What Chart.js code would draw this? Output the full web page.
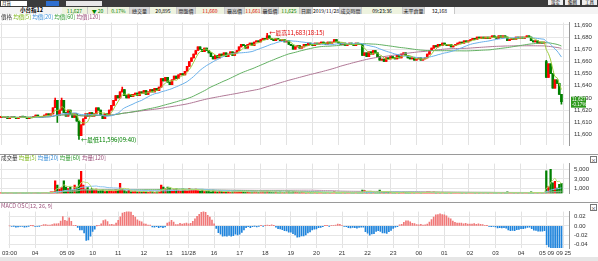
<!DOCTYPE html>
<html><head><meta charset="utf-8">
<script src="https://cdn.jsdelivr.net/npm/chart.js@4.4.0/dist/chart.umd.min.js"></script>
<style>
body{margin:0;width:598px;height:261px;overflow:hidden;background:#fff;position:relative;font-family:"Noto Sans CJK TC","Liberation Sans",sans-serif}
canvas{position:absolute;left:0}
.t{position:absolute;font-size:5.5px;line-height:7px;white-space:nowrap}
.bar{position:absolute;left:0;width:598px}
.cell{position:absolute;top:7px;height:7px;font-size:5px;line-height:7px;text-align:center;border-right:1px solid #c8c8c8;box-sizing:border-box}
.lab{background:#d6d6d6;color:#222}
.val{background:#eef3df}
.hl{position:absolute;left:0;width:598px;height:1px;background:#9a9a9a}
.x{position:absolute;left:590px;width:5px;height:5px;border:1px solid #777;font-size:5px;line-height:5px;text-align:center;background:#fff}
</style></head><body>

<div class="bar" style="top:0;height:7px;background:#3b3b3b"></div>
<div style="position:absolute;left:1px;top:1px;width:26px;height:5px;background:#fff;font-size:4.5px;line-height:5px">&nbsp;月貨</div>
<div style="position:absolute;left:46px;top:1px;width:13px;height:5px;background:#2f6fd0"></div>
<div style="position:absolute;left:66px;top:1px;width:36px;height:5px;background:#e8e8e8"></div>
<div style="position:absolute;left:548px;top:0;width:15px;height:5px;background:#eee;font-size:4.5px;line-height:5px;text-align:center">設定</div>
<div style="position:absolute;left:565px;top:0;width:15px;height:5px;background:#eee;font-size:4.5px;line-height:5px;text-align:center">編輯</div>
<div style="position:absolute;left:582px;top:0;width:15px;height:5px;background:#eee;font-size:4.5px;line-height:5px;text-align:center">工具</div>

<div class="bar" style="top:7px;height:7px;background:#f4f4f4"></div>
<div class="t" style="left:20px;top:7px;font-size:5.5px;font-weight:bold">小台指12</div>
<div class="cell val" style="left:62px;width:26px;color:#008000">11,627</div>
<div class="cell val" style="left:88px;width:20px;color:#008000">▼ 20</div>
<div class="cell val" style="left:108px;width:22px;color:#008000">0.17%</div>
<div class="cell lab" style="left:130px;width:20px">總交量</div>
<div class="cell val" style="left:150px;width:27px">20,895</div>
<div class="cell lab" style="left:177px;width:19px">開盤價</div>
<div class="cell val" style="left:196px;width:29px;color:#e00000">11,660</div>
<div class="cell lab" style="left:225px;width:20px">最高價</div>
<div class="cell val" style="left:245px;width:17px;color:#e00000">11,661</div>
<div class="cell lab" style="left:262px;width:17px">最低價</div>
<div class="cell val" style="left:279px;width:21px;color:#008000">11,625</div>
<div class="cell lab" style="left:300px;width:13px">日期</div>
<div class="cell" style="left:313px;width:27px;background:#fff">2019/11/28</div>
<div class="cell lab" style="left:340px;width:22px">成交時間</div>
<div class="cell val" style="left:362px;width:41px">09:23:36</div>
<div class="cell lab" style="left:403px;width:22px">未平倉量</div>
<div class="cell" style="left:425px;width:30px;background:#fff">32,168</div>

<canvas id="price" width="598" height="140" style="top:14px"></canvas>
<canvas id="vol" width="598" height="47" style="top:155px"></canvas>
<canvas id="macd" width="598" height="54" style="top:203px"></canvas>

<div class="hl" style="top:154px"></div>
<div class="hl" style="top:202px"></div>
<div class="x" style="top:156px">×</div>
<div class="x" style="top:204px">×</div>

<div class="t" style="left:1px;top:14px"><span style="color:#333">價格</span> <span style="color:#7cb518">均價[5]</span> <span style="color:#3a8fd8">均價[20]</span> <span style="color:#2e9a2e">均價[60]</span> <span style="color:#9b4f7a">均價[120]</span></div>
<div class="t" style="left:1px;top:155px"><span style="color:#333">成交量</span> <span style="color:#7cb518">均量[5]</span> <span style="color:#3a8fd8">均量[20]</span> <span style="color:#2e9a2e">均量[60]</span> <span style="color:#9b4f7a">均量[120]</span></div>
<div class="t" style="left:1px;top:203px;color:#9b4f7a">MACD OSC[12, 26, 9]</div>

<div class="bar" style="top:257px;height:4px;background:#e6e6e6"></div>

<script>
// 5 minute bars, one array per session
const nightCloses1 = [11615, 11614, 11615, 11613, 11614, 11615, 11614, 11613, 11614, 11615,
  11615, 11614, 11613, 11614, 11614, 11615, 11616, 11615, 11614, 11615, 11616, 11617, 11616, 11617];
const dayCloses1 = [11622, 11628, 11616, 11620, 11628, 11618, 11615, 11620, 11617, 11614,
  11617, 11611, 11599, 11608, 11613, 11617, 11615, 11618, 11615, 11617,
  11622, 11620, 11616, 11613, 11617, 11616, 11620, 11624, 11628, 11632,
  11630, 11635, 11637, 11632, 11630, 11633, 11631, 11633, 11634, 11632,
  11635, 11634, 11636, 11633, 11635, 11637, 11635, 11638, 11636, 11639,
  11646, 11644, 11647, 11643, 11641, 11645, 11648, 11646, 11649, 11650];
const nightCloses2 = [11649, 11652, 11656, 11660, 11663, 11666, 11669, 11672, 11670, 11668,
  11671, 11669, 11667, 11664, 11662, 11665, 11663, 11666, 11665, 11667,
  11664, 11666, 11668, 11665, 11667, 11669, 11672, 11674, 11673, 11671,
  11674, 11675, 11673, 11676, 11677, 11676, 11678, 11679, 11678, 11681,
  11679, 11678, 11677, 11679, 11678, 11677, 11678, 11676, 11677, 11674,
  11673, 11670, 11672, 11673, 11671, 11672, 11674, 11673, 11675, 11674,
  11673, 11675, 11674, 11675, 11676, 11675, 11674, 11676, 11675, 11676,
  11678, 11676, 11675, 11674, 11675, 11673, 11674, 11675, 11674, 11673,
  11675, 11674, 11674, 11665, 11667, 11664, 11668, 11666, 11669, 11667,
  11664, 11661, 11662, 11660, 11663, 11662, 11664, 11663, 11662, 11665,
  11663, 11666, 11667, 11665, 11663, 11662, 11663, 11661, 11662, 11663,
  11661, 11662, 11663, 11666, 11669, 11671, 11673, 11672, 11674, 11673,
  11675, 11674, 11673, 11674, 11672, 11673, 11674, 11675, 11676, 11675,
  11677, 11676, 11677, 11678, 11679, 11678, 11680, 11679, 11680, 11679,
  11680, 11679, 11680, 11681, 11680, 11679, 11681, 11680, 11681, 11680,
  11677, 11678, 11679, 11678, 11680, 11679, 11680, 11679, 11680, 11681,
  11680, 11677, 11676, 11677, 11675, 11676, 11675, 11676];
const dayCloses2 = [11647, 11658, 11650, 11638, 11645, 11642, 11633, 11627];

const nightVol1 = [120, 80, 150, 60, 90, 110, 70, 130, 90, 60, 100, 80, 140, 70, 90, 60, 120, 150, 80, 100, 130, 180, 90, 300];
const dayVol1 = [300, 2600, 1700, 900, 1200, 2600, 1300, 1000, 1300, 700,
  1700, 1300, 2800, 4600, 1700, 900, 1200, 600, 1000, 700,
  900, 500, 600, 800, 400, 500, 700, 600, 500, 800,
  700, 2100, 1000, 600, 400, 700, 300, 400, 500, 300,
  400, 300, 500, 300, 200, 400, 300, 200, 300, 400,
  1700, 1300, 1000, 1300, 1100, 600, 800, 1000, 700, 500];
const nightVol2 = [900, 800, 600, 1000, 700, 800, 900, 600, 500, 700,
  400, 500, 600, 300, 700, 400, 300, 500, 400, 300,
  300, 400, 200, 300, 400, 300, 500, 400, 300, 200,
  300, 200, 300, 400, 300, 200, 300, 400, 300, 500,
  300, 200, 200, 300, 200, 300, 200, 200, 300, 400,
  200, 400, 300, 200, 200, 300, 200, 100, 200, 200,
  100, 200, 200, 100, 200, 100, 200, 100, 100, 200,
  300, 200, 100, 100, 200, 100, 200, 100, 100, 100,
  100, 200, 200, 700, 600, 400, 300, 300, 200, 200,
  300, 700, 400, 300, 300, 200, 200, 100, 200, 300,
  200, 200, 300, 200, 200, 100, 200, 100, 100, 200,
  100, 200, 200, 300, 300, 200, 300, 200, 200, 100,
  200, 100, 100, 200, 100, 100, 200, 100, 100, 100,
  100, 100, 200, 100, 100, 100, 100, 200, 100, 100,
  100, 100, 100, 200, 100, 100, 100, 100, 100, 100,
  300, 100, 100, 100, 100, 200, 100, 100, 100, 200,
  100, 300, 200, 100, 200, 100, 100, 200];
const dayVol2 = [4700, 1400, 5000, 2200, 2500, 1100, 1900, 2100];

const firstOpen = 11614;
const dayOpen2 = 11660;
const wickHigh = {25: 11630, 28: 11630, 56: 11639, 123: 11683, 252: 11661};
const wickLow = {26: 11610, 36: 11596, 259: 11625};

const sessions = [['03:00', 24], ['08:45', 60], ['15:00', 168], ['08:45', 8]];
const tickIdx = [0, 12, 27, 39, 51, 63, 75, 84, 96, 108, 120, 132, 144, 156, 168, 180, 192, 204, 216, 228, 240, 252, 260];
const tickText = ['03:00', '04', '05 09', '10', '11', '12', '13', '11/28', '16', '17', '18', '19', '20', '21', '22', '23', '00', '01', '02', '03', '04', '05 09', '09 25'];
const priceTicks = [11600, 11610, 11620, 11630, 11640, 11650, 11660, 11670, 11680, 11690];
const volTicks = [1000, 2000, 3000, 4000, 5000];
const macdTicks = [0.02, 0, -0.02, -0.04];

const closes = nightCloses1.concat(dayCloses1, nightCloses2, dayCloses2);
const volumes = nightVol1.concat(dayVol1, nightVol2, dayVol2);

const labels = [];
sessions.forEach(([start, n]) => {
  let [h, m] = start.split(':').map(Number);
  for (let k = 0; k < n; k++) {
    labels.push(String(h).padStart(2, '0') + ':' + String(m).padStart(2, '0'));
    m += 5; if (m >= 60) { m -= 60; h = (h + 1) % 24; }
  }
});
while (labels.length < 263) labels.push('');
const tickMap = {};
tickIdx.forEach((i, k) => tickMap[i] = tickText[k]);

const opens = closes.map((c, i) => i === 0 ? firstOpen : (i === 252 ? dayOpen2 : closes[i - 1]));
const up = closes.map((c, i) => c > opens[i]);
const candleColor = up.map(u => u ? '#ff0000' : '#008000');
const bodies = closes.map((c, i) => c === opens[i] ? [c - 0.25, c + 0.25] : [opens[i], c]);
const wicks = closes.map((c, i) => [wickLow[i] ?? Math.min(c, opens[i]), wickHigh[i] ?? Math.max(c, opens[i])]);

function ma(src, n) {
  return src.map((_, i) => {
    const s = Math.max(0, i - n + 1);
    let t = 0;
    for (let k = s; k <= i; k++) t += src[k];
    return t / (i - s + 1);
  });
}
function ema(src, n) {
  const a = 2 / (n + 1), out = [];
  src.forEach((v, i) => out.push(i ? out[i - 1] + a * (v - out[i - 1]) : v));
  return out;
}
// OSC = 2 * (DIF - signal), shown as % of price
const e12 = ema(closes, 12), e26 = ema(closes, 26);
const dif = e12.map((v, i) => v - e26[i]);
const sig = ema(dif, 9);
const osc = dif.map((v, i) => 2 * (v - sig[i]) / closes[i] * 100);

const font = {family: 'Liberation Sans', size: 6};
const xGrid = {
  offset: false, drawTicks: false,
  color: c => tickMap[c.index] !== undefined ? '#e2e2e2' : 'rgba(0,0,0,0)'
};
function xAxis(show) {
  return {
    grid: xGrid, border: {display: false},
    ticks: {display: show, autoSkip: false, maxRotation: 0, minRotation: 0, padding: 2, font, color: '#333',
      callback: (v, i) => tickMap[i] ?? ''},
    afterFit: s => { s.height = show ? 9 : 0; }
  };
}
function yAxis(min, max, ticks, fmt) {
  return {
    position: 'right', min, max,
    afterBuildTicks: s => { s.ticks = ticks.map(v => ({value: v})); },
    afterFit: s => { s.width = 29; },
    grid: {color: '#e6e6e6', drawTicks: false},
    border: {color: '#999'},
    ticks: {font, color: '#333', padding: 5, callback: fmt}
  };
}
const lineDs = (data, color) => ({type: 'line', data, borderColor: color, borderWidth: 1, pointRadius: 0, tension: 0.3, order: 0});
const common = {responsive: false, animation: false, events: [], layout: {padding: 0},
  plugins: {legend: {display: false}, tooltip: {enabled: false}}};

const markers = {
  id: 'markers',
  afterDatasetsDraw(chart) {
    const {ctx, scales: {x, y}} = chart;
    ctx.save();
    ctx.font = '6px "Noto Sans CJK TC"';
    ctx.textBaseline = 'middle';
    const hi = 123, lo = 36;
    ctx.fillStyle = '#e00000';
    ctx.fillText('←最高11,683(18:15)', x.getPixelForValue(hi) + 2, y.getPixelForValue(wickHigh[hi]) - 1);
    ctx.fillStyle = '#008000';
    ctx.fillText('←最低11,596(09:40)', x.getPixelForValue(lo) + 2, y.getPixelForValue(wickLow[lo]));
    const last = closes.length - 1;
    const py = y.getPixelForValue(closes[last]);
    ctx.fillStyle = '#2f9a1e';
    ctx.fillRect(571, py - 5, 15, 11);
    ctx.fillStyle = '#fff';
    ctx.font = '4.5px "Liberation Sans"';
    ctx.fillText('11,627', 572, py - 2);
    ctx.fillText('-0.17%', 572, py + 3);
    ctx.restore();
  }
};

new Chart(document.getElementById('price'), {
  type: 'bar',
  data: {labels, datasets: [
    lineDs(ma(closes, 5), '#9ccc3c'),
    lineDs(ma(closes, 20), '#6ab0ea'),
    lineDs(ma(closes, 60), '#62b062'),
    lineDs(ma(closes, 120), '#b07896'),
    {data: wicks, backgroundColor: candleColor, barThickness: 1, grouped: false, order: 5},
    {data: bodies, backgroundColor: candleColor, barThickness: 2, grouped: false, order: 4}
  ]},
  options: {...common, scales: {
    x: xAxis(false),
    y: yAxis(11591.1, 11691.9, priceTicks, v => v.toLocaleString('en-US'))
  }},
  plugins: [markers]
});

new Chart(document.getElementById('vol'), {
  type: 'bar',
  data: {labels, datasets: [
    lineDs(ma(volumes, 5), '#b5dc6a'),
    lineDs(ma(volumes, 20), '#8cc4f0'),
    lineDs(ma(volumes, 60), '#7cc07c'),
    lineDs(ma(volumes, 120), '#c49ab2'),
    {data: volumes, backgroundColor: candleColor, barThickness: 1.6, order: 5}
  ]},
  options: {...common, scales: {
    x: xAxis(false),
    y: yAxis(0, 6180, volTicks, v => v.toLocaleString('en-US'))
  }}
});

new Chart(document.getElementById('macd'), {
  type: 'bar',
  data: {labels, datasets: [
    {data: osc, backgroundColor: osc.map(v => v >= 0 ? '#f07878' : '#1f84dc'), barThickness: 1}
  ]},
  options: {...common, scales: {
    x: xAxis(true),
    y: yAxis(-0.0479, 0.031, macdTicks, v => v.toFixed(2))
  }}
});
</script>
</body></html>
